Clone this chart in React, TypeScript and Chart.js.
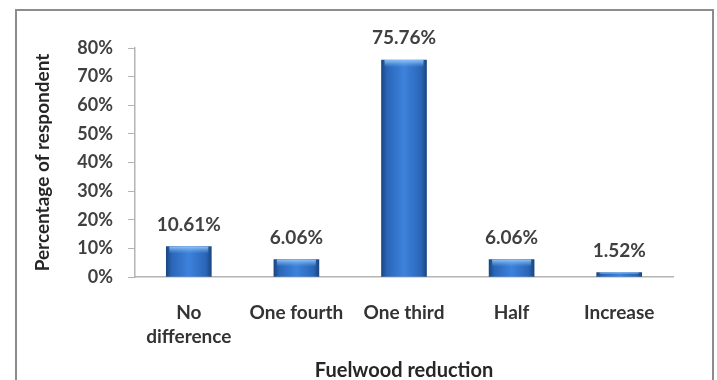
import React, { useEffect, useRef } from "react";
import { Chart, registerables } from "chart.js";

Chart.register(...registerables);

const categories: (string | string[])[] = [["No", "difference"], "One fourth", "One third", "Half", "Increase"];
const values: number[] = [10.61, 6.06, 75.76, 6.06, 1.52];
const yTicks: number[] = [0, 10, 20, 30, 40, 50, 60, 70, 80];
const yTitle = "Percentage of respondent";
const xTitle = "Fuelwood reduction";

const FONT = "Lato, 'Open Sans', sans-serif";
const BAR_W = 45;

const framePlugin = {
  id: "frame",
  beforeDraw(chart: any) {
    const { ctx, width, height } = chart;
    ctx.save();
    ctx.fillStyle = "#ffffff";
    ctx.fillRect(0, 0, width, height);
    ctx.strokeStyle = "#8c8c8c";
    ctx.lineWidth = 2;
    ctx.beginPath();
    ctx.moveTo(16, height + 5);
    ctx.lineTo(16, 10);
    ctx.lineTo(713, 10);
    ctx.lineTo(713, height + 5);
    ctx.stroke();
    ctx.restore();
  },
};

const barDecorPlugin = {
  id: "barDecor",
  afterDatasetsDraw(chart: any) {
    const { ctx } = chart;
    const meta = chart.getDatasetMeta(0);
    ctx.save();
    meta.data.forEach((bar: any, i: number) => {
      const left = bar.x - BAR_W / 2;
      const top = bar.y;
      const h = bar.base - bar.y;
      const cap = Math.min(7, h * 0.45);
      if (cap > 0 && isFinite(top)) {
        const g = ctx.createLinearGradient(0, top, 0, top + cap);
        g.addColorStop(0, "rgba(150,200,250,0.95)");
        g.addColorStop(1, "rgba(110,170,235,0.0)");
        ctx.fillStyle = g;
        ctx.fillRect(left + 3, top, BAR_W - 6, cap);
      }
      ctx.fillStyle = "#404040";
      ctx.font = `bold 19px ${FONT}`;
      ctx.textAlign = "center";
      ctx.textBaseline = "middle";
      ctx.fillText(values[i].toFixed(2) + "%", bar.x, bar.y - 22);
    });
    ctx.restore();
  },
};

function barFill(c: any) {
  const chart = c.chart;
  const x = chart.scales && chart.scales.x;
  if (!x || c.dataIndex === undefined) return "#2f6cc0";
  const cx = x.getPixelForValue(c.dataIndex);
  if (!isFinite(cx)) return "#2f6cc0";
  const g = chart.ctx.createLinearGradient(cx - BAR_W / 2, 0, cx + BAR_W / 2, 0);
  g.addColorStop(0, "#1b467f");
  g.addColorStop(0.12, "#2a66b8");
  g.addColorStop(0.5, "#3d82dc");
  g.addColorStop(0.88, "#2a66b8");
  g.addColorStop(1, "#1b467f");
  return g;
}

export default function App() {
  const ref = useRef<HTMLCanvasElement>(null);
  useEffect(() => {
    if (!ref.current) return;
    const chart = new Chart(ref.current, {
      type: "bar",
      data: {
        labels: categories,
        datasets: [
          {
            data: values,
            backgroundColor: barFill,
            borderWidth: 0,
            barThickness: BAR_W,
          },
        ],
      },
      options: {
        responsive: false,
        animation: false,
        layout: { padding: { left: 0, top: 48, right: 44, bottom: 0 } },
        plugins: {
          legend: { display: false },
          tooltip: { enabled: false },
          title: { display: false },
        },
        scales: {
          x: {
            grid: { display: false, drawTicks: false },
            border: { display: true, color: "#b4b4b4", width: 1.5 },
            ticks: {
              color: "#333333",
              padding: 24,
              autoSkip: false,
              maxRotation: 0,
              font: { family: FONT, size: 19, weight: "bold", lineHeight: 1.26 },
            },
            title: {
              display: true,
              text: xTitle,
              color: "#262626",
              padding: { top: 0, bottom: 0 },
              font: { family: FONT, size: 20, weight: "bold", lineHeight: 0.9 },
            },
            afterFit(s: any) {
              s.height = 103;
            },
          },
          y: {
            min: 0,
            max: 80,
            afterBuildTicks(s: any) {
              s.ticks = yTicks.map((v) => ({ value: v }));
            },
            grid: {
              display: true,
              drawOnChartArea: false,
              drawTicks: true,
              tickLength: 7,
              color: "#b4b4b4",
              lineWidth: 1,
            },
            border: { display: true, color: "#b4b4b4", width: 1.5 },
            ticks: {
              color: "#404040",
              padding: 15,
              callback: (v: any) => v + "%",
              font: { family: FONT, size: 18, weight: "bold" },
            },
            title: {
              display: true,
              text: yTitle,
              color: "#262626",
              padding: { top: 33, bottom: 0 },
              font: { family: FONT, size: 19, weight: "bold", lineHeight: 1.0 },
            },
            afterFit(s: any) {
              s.width = 135;
            },
          },
        },
      },
      plugins: [framePlugin, barDecorPlugin],
    });
    return () => chart.destroy();
  }, []);
  return (
    <div style={{ position: "absolute", left: 0, top: 0, width: 717, height: 380, overflow: "hidden" }}>
      <canvas ref={ref} width={717} height={380} style={{ display: "block" }} />
    </div>
  );
}
